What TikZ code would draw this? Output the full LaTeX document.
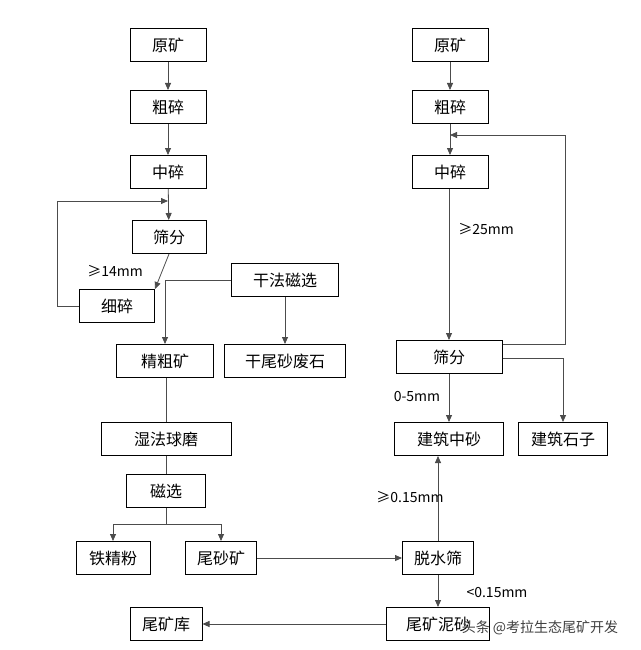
\documentclass[tikz,border=0pt]{standalone}
\usepackage{fontspec}
\setmainfont{Noto Sans CJK SC}
\usetikzlibrary{arrows.meta}
\begin{document}
\begin{tikzpicture}[x=1pt,y=-1pt,
  box/.style={draw=black,line width=1pt,minimum height=33pt,inner sep=0pt,font=\fontsize{16}{19}\selectfont},
  ar/.style={draw=black!70,line width=0.8pt,-{Triangle[length=7pt,width=6pt]}},
  ln/.style={draw=black!70,line width=0.8pt},
  lab/.style={font=\fontsize{14}{16}\selectfont}]
\useasboundingbox (0,0) rectangle (640,650);
\fill[white] (0,0) rectangle (640,650);
% left column
\node[box,minimum width=76pt] (a1) at (168,45) {原矿};
\node[box,minimum width=76pt] (a2) at (168,107) {粗碎};
\node[box,minimum width=76pt] (a3) at (168,172) {中碎};
\node[box,minimum width=74pt] (a4) at (169,237) {筛分};
\node[box,minimum width=75pt] (a5) at (117,306) {细碎};
\node[box,minimum width=107pt] (a6) at (285,280) {干法磁选};
\node[box,minimum width=97pt] (a7) at (165,361) {精粗矿};
\node[box,minimum width=121pt] (a8) at (285,361) {干尾砂废石};
\node[box,minimum width=130pt] (a9) at (166,439) {湿法球磨};
\node[box,minimum width=79pt] (a10) at (166,491) {磁选};
\node[box,minimum width=74pt] (a11) at (113,558) {铁精粉};
\node[box,minimum width=71pt] (a12) at (221,558) {尾砂矿};
\node[box,minimum width=72pt] (a13) at (166,624) {尾矿库};
% right column
\node[box,minimum width=76pt] (b1) at (450,45) {原矿};
\node[box,minimum width=76pt] (b2) at (450,107) {粗碎};
\node[box,minimum width=76pt] (b3) at (450,172) {中碎};
\node[box,minimum width=106pt] (b4) at (449,357) {筛分};
\node[box,minimum width=109pt] (b5) at (449,439) {建筑中砂};
\node[box,minimum width=89pt] (b6) at (563,439) {建筑石子};
\node[box,minimum width=71pt] (b7) at (438,558) {脱水筛};
\node[box,minimum width=103pt] (b8) at (438,624) {尾矿泥砂};
% coordinates
\coordinate (fb1) at (57,306);
\coordinate (fb2) at (57,201);
\coordinate (fb3) at (168,201);
\coordinate (dm1) at (165,280);
\coordinate (sp) at (166,524);
\coordinate (sp1) at (113,524);
\coordinate (sp2) at (221,524);
\coordinate (r1) at (565,344);
\coordinate (r2) at (565,135);
\coordinate (r3) at (450,135);
\coordinate (s1) at (563,358);
% left connectors
\draw[ar] (a1) -- (a2);
\draw[ar] (a2) -- (a3);
\draw[ar] (a3) -- (a4);
\draw[ar] (a4.south) -- (a5.north east);
\draw[ar] (a5.west) -- (fb1) -- (fb2) -- (fb3);
\draw[ar] (a6.west) -- (dm1) -- (a7.north -| dm1);
\draw[ar] (a6) -- (a8);
\draw[ln] (a7.south -| a9) -- (a9);
\draw[ln] (a9) -- (a10);
\draw[ln] (a10) -- (sp);
\draw[ln] (sp1) -- (sp2);
\draw[ar] (sp1) -- (a11);
\draw[ar] (sp2) -- (a12);
\draw[ar] (a12) -- (b7);
\draw[ar] (b7.south) -- (b8.north -| b7);
\draw[ar] (b7.north) -- (b5.south -| b7);
\draw[ar] (b8) -- (a13);
% right connectors
\draw[ar] (b1) -- (b2);
\draw[ar] (b2) -- (b3);
\draw[ar] (b3.south -| b4) -- (b4);
\draw[ar] (b4.east |- r1) -- (r1) -- (r2) -- (r3);
\draw[ar] (b4.east |- s1) -- (s1) -- (b6.north -| s1);
\draw[ar] (b4) -- (b5);
% labels
\node[lab] (l1) at (115,271) {≥14mm};
\node[lab] (l2) at (486,229) {≥25mm};
\node[lab] (l3) at (417,397) {0-5mm};
\node[lab] (l4) at (410,497) {≥0.15mm};
\node[lab] (l5) at (497,593) {<0.15mm};
\node[font=\fontsize{14}{16}\selectfont,text=black!75] (wm) at (540,628) {头条 @考拉生态尾矿开发};
\end{tikzpicture}
\end{document}
